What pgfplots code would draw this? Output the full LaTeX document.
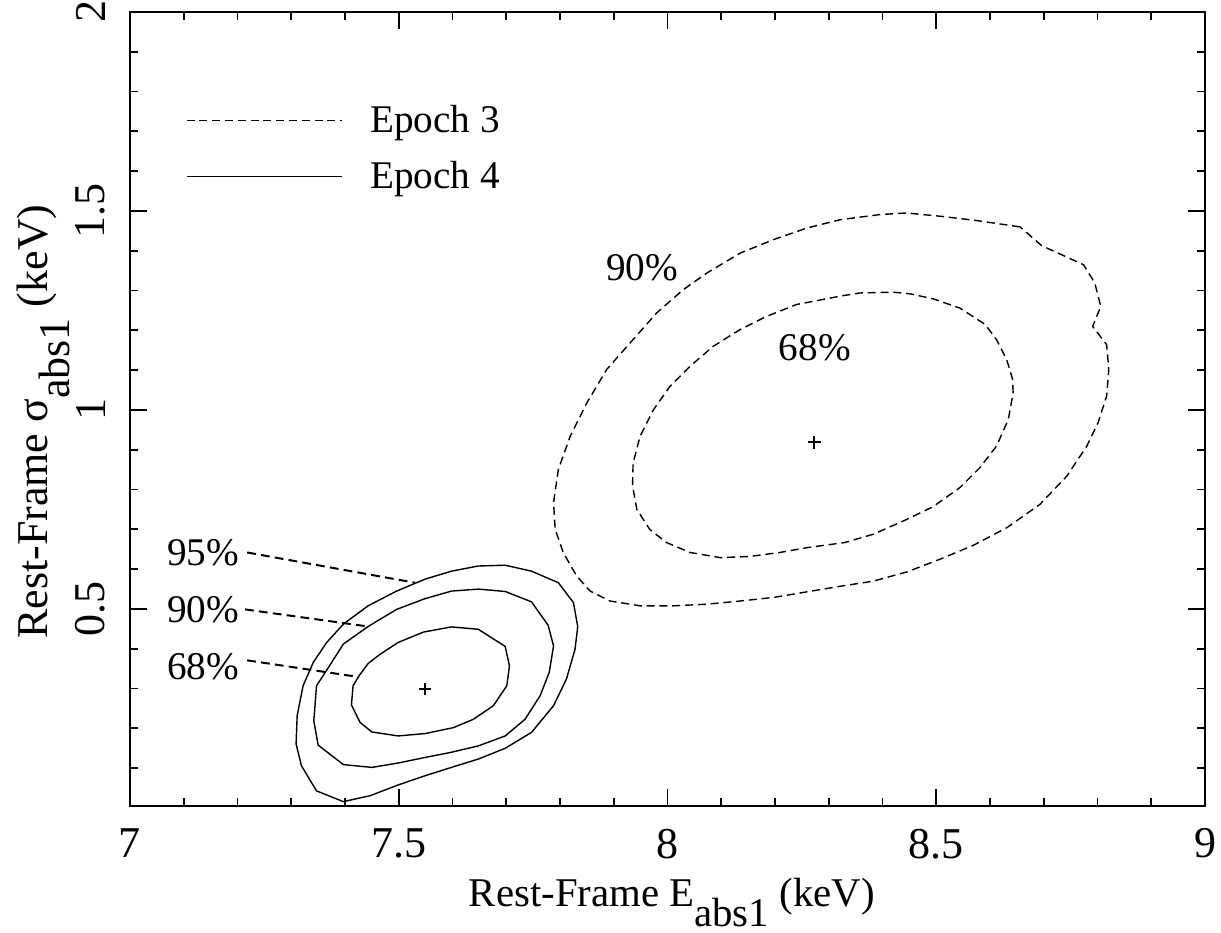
\documentclass[border=0pt]{standalone}
\usepackage{fontspec}
\setmainfont{Liberation Serif}
\usepackage{pgfplots}
\pgfplotsset{compat=1.18}
\begin{document}
\begin{tikzpicture}
\begin{axis}[
  name=ax,
  scale only axis,
  width=268.75pt, height=198.5pt,
  xmin=7, xmax=9, ymin=0.005, ymax=2,
  xtick={7,7.5,8,8.5,9},
  minor xtick={7.1,7.2,7.3,7.4,7.6,7.7,7.8,7.9,8.1,8.2,8.3,8.4,8.6,8.7,8.8,8.9},
  ytick={0.5,1,1.5,2},
  minor ytick={0.1,0.2,0.3,0.4,0.6,0.7,0.8,0.9,1.1,1.2,1.3,1.4,1.6,1.7,1.8,1.9},
  tick align=inside, xtick pos=both, ytick pos=both,
  major tick length=4.25pt, minor tick length=2pt,
  axis line style={line width=0.6pt},
  every tick/.style={black, line width=0.45pt},
  /pgf/number format/assume math mode=true,
  ticklabel style={font=\fontsize{11}{13}\selectfont},
  xticklabel style={anchor=north, inner sep=0pt},
  xticklabel shift=5.5pt,
  yticklabel style={rotate=90, anchor=south, inner sep=0pt},
  yticklabel shift=6pt,
  xlabel={Rest-Frame E\raisebox{-0.5em}{abs1} (keV)},
  ylabel={Rest-Frame σ\raisebox{-0.5em}{abs1} (keV)},
  xlabel style={at={(rel axis cs:0.504,-0.1265)}, anchor=base, inner sep=0pt, font=\fontsize{10.2}{12}\selectfont},
  ylabel style={at={(rel axis cs:-0.0765,0.484)}, rotate=0, anchor=base, inner sep=0pt, font=\fontsize{11}{13}\selectfont},
  legend style={draw=none, fill=none, at={(rel axis cs:0.0512,0.8268)}, anchor=west,
    inner sep=0pt, row sep=5.75pt, font=\fontsize{9.8}{11}\selectfont,
    nodes={inner sep=0pt},
    /tikz/every odd column/.append style={column sep=7pt}},
  legend cell align=left,
  legend image code/.code={\draw[#1] (0pt,0.3pt) -- (38.75pt,0.3pt);},
  ed/.style={black, line width=0.35pt, dash pattern=on 2pt off 1.2pt},
  sol/.style={black, line width=0.35pt},
  lead/.style={black, line width=0.5pt, dash pattern=on 2.2pt off 1.3pt},
]
% Epoch 3 (dashed) 90% contour
\addplot[ed] coordinates {
(8.656,1.460) (8.575,1.476) (8.513,1.486) (8.445,1.495) (8.395,1.491) (8.321,1.478)
(8.259,1.457) (8.197,1.428) (8.135,1.394) (8.073,1.344) (8.029,1.302) (7.980,1.244)
(7.936,1.177) (7.887,1.102) (7.850,1.018) (7.819,0.934) (7.797,0.851) (7.788,0.767)
(7.791,0.700) (7.806,0.642) (7.831,0.583) (7.856,0.545) (7.893,0.520) (7.949,0.508)
(8.011,0.508) (8.073,0.512) (8.135,0.520) (8.197,0.529) (8.259,0.543) (8.321,0.557)
(8.383,0.570) (8.445,0.593) (8.507,0.625) (8.569,0.660) (8.631,0.704) (8.693,0.763)
(8.743,0.834) (8.780,0.909) (8.801,0.968) (8.817,1.035) (8.821,1.102) (8.817,1.164)
(8.791,1.210) (8.806,1.260) (8.795,1.319) (8.774,1.365) (8.696,1.413) (8.656,1.460)};
\addlegendentry{Epoch 3}
% Epoch 4 (solid) 68% contour
\addplot[sol] coordinates {
(7.598,0.455) (7.648,0.449) (7.698,0.406) (7.706,0.357) (7.701,0.307) (7.676,0.257)
(7.639,0.223) (7.602,0.202) (7.549,0.187) (7.499,0.181) (7.450,0.191) (7.428,0.215)
(7.412,0.259) (7.415,0.307) (7.426,0.332) (7.443,0.363) (7.465,0.386) (7.499,0.416)
(7.546,0.442) (7.598,0.455)};
\addlegendentry{Epoch 4}
% Epoch 3 68% contour
\addplot[ed, forget plot] coordinates {
(8.643,1.043) (8.642,1.077) (8.631,1.127) (8.612,1.177) (8.591,1.215) (8.544,1.256)
(8.495,1.279) (8.451,1.292) (8.420,1.296) (8.358,1.294) (8.321,1.286) (8.240,1.265)
(8.184,1.235) (8.135,1.202) (8.085,1.160) (8.042,1.110) (8.005,1.060) (7.974,1.001)
(7.949,0.934) (7.936,0.867) (7.935,0.809) (7.943,0.750) (7.967,0.700) (7.998,0.667)
(8.042,0.642) (8.098,0.629) (8.153,0.632) (8.209,0.642) (8.259,0.654) (8.330,0.667)
(8.383,0.688) (8.445,0.725) (8.494,0.757) (8.544,0.805) (8.581,0.855) (8.612,0.909)
(8.634,0.976) (8.643,1.043)};
% Epoch 4 90% contour
\addplot[sol, forget plot] coordinates {
(7.648,0.550) (7.698,0.544) (7.747,0.518) (7.778,0.459) (7.788,0.407) (7.780,0.341)
(7.763,0.282) (7.735,0.223) (7.698,0.181) (7.648,0.156) (7.598,0.140) (7.549,0.127)
(7.499,0.113) (7.450,0.102) (7.397,0.109) (7.350,0.158) (7.342,0.219) (7.347,0.307)
(7.371,0.357) (7.397,0.412) (7.443,0.456) (7.496,0.499) (7.549,0.526) (7.598,0.545)
(7.648,0.550)};
% Epoch 4 95% contour
\addplot[sol, forget plot] coordinates {
(7.698,0.610) (7.747,0.595) (7.797,0.566) (7.825,0.516) (7.833,0.456) (7.828,0.399)
(7.812,0.324) (7.788,0.257) (7.747,0.190) (7.698,0.150) (7.648,0.123) (7.598,0.102)
(7.549,0.081) (7.499,0.058) (7.447,0.031) (7.397,0.016) (7.347,0.043) (7.319,0.106)
(7.309,0.161) (7.311,0.232) (7.322,0.307) (7.341,0.366) (7.366,0.416) (7.397,0.462)
(7.443,0.508) (7.496,0.545) (7.549,0.575) (7.598,0.595) (7.648,0.608) (7.698,0.610)};
% best-fit points
\addplot[only marks, mark=+, mark size=1.6pt, line width=0.6pt, black, forget plot]
  coordinates {(8.273,0.919) (7.549,0.299)};
% leader lines
\addplot[lead, forget plot] coordinates {(7.218,0.642) (7.530,0.566)};
\addplot[lead, forget plot] coordinates {(7.214,0.499) (7.443,0.456)};
\addplot[lead, forget plot] coordinates {(7.218,0.371) (7.426,0.329)};
% contour level labels
\node[font=\fontsize{9.8}{11}\selectfont] at (axis cs:7.953,1.358) {90\%};
\node[font=\fontsize{9.8}{11}\selectfont] at (axis cs:8.274,1.157) {68\%};
\node[font=\fontsize{9.8}{11}\selectfont] at (axis cs:7.136,0.642) {95\%};
\node[font=\fontsize{9.8}{11}\selectfont] at (axis cs:7.136,0.499) {90\%};
\node[font=\fontsize{9.8}{11}\selectfont] at (axis cs:7.136,0.356) {68\%};
\end{axis}
\pgfresetboundingbox
\path[use as bounding box] (ax.south west) ++(-32.5pt,-31.5pt) rectangle ([shift={(4pt,3pt)}]ax.north east);
\end{tikzpicture}
\end{document}
